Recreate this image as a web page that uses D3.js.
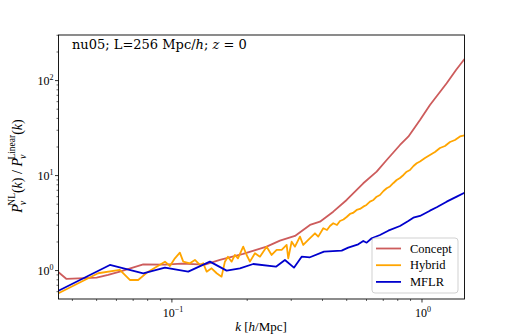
<!DOCTYPE html>
<html>
<head>
<meta charset="utf-8">
<script src="https://cdn.jsdelivr.net/npm/d3@7"></script>
<style>
  body { margin: 0; background: #fff; }
  text { font-family: "Liberation Serif", "DejaVu Serif", serif; fill: #000; }
</style>
</head>
<body>
<svg id="chart" width="510" height="336"></svg>
<script>
// k [h/Mpc] and P_nu^NL / P_nu^Linear
const conceptK = [0.0352, 0.0379, 0.0500, 0.0556, 0.0619, 0.0768, 0.0938, 0.1093, 0.1355, 0.1556, 0.1928, 0.2392, 0.2704, 0.3105, 0.3565, 0.3908, 0.4417, 0.4997, 0.5824, 0.6588, 0.7225, 0.8166, 0.8815, 0.9817, 1.076, 1.255, 1.368, 1.479]
const conceptR = [0.960, 0.816, 0.842, 0.899, 0.974, 1.159, 1.154, 1.182, 1.154, 1.293, 1.496, 1.785, 2.064, 2.313, 3.020, 3.272, 4.169, 5.536, 8.297, 10.99, 14.59, 21.00, 25.67, 38.49, 55.36, 93.67, 129.3, 168.8]

const hybridK = [0.0352, 0.0507, 0.0619, 0.0679, 0.0733, 0.0804, 0.0938, 0.0982, 0.1028, 0.1076, 0.1110, 0.1180, 0.1236, 0.1294, 0.1334, 0.1377, 0.1441, 0.1510, 0.1580, 0.1629, 0.1675, 0.1733, 0.1786, 0.1837, 0.1928, 0.1990, 0.2051, 0.2148, 0.2249, 0.2392, 0.2505, 0.2623, 0.2747, 0.2876, 0.2919, 0.3012, 0.3105, 0.3251, 0.3351, 0.3509, 0.3733, 0.3848, 0.4030, 0.4169, 0.4285, 0.4417, 0.4571, 0.4699, 0.4853, 0.4997, 0.5152, 0.5297, 0.5481, 0.5649, 0.5824, 0.5998, 0.6194, 0.6397, 0.6588, 0.6792, 0.7015, 0.7225, 0.7447, 0.7691, 0.7921, 0.8166, 0.8433, 0.8686, 0.8954, 0.9247, 0.9524, 0.9817, 1.028, 1.076, 1.127, 1.180, 1.236, 1.294, 1.355, 1.419, 1.479]
const hybridR = [0.577, 0.937, 1.015, 0.796, 0.796, 0.974, 1.241, 1.118, 1.347, 1.543, 1.241, 1.194, 1.293, 1.145, 1.194, 0.974, 1.057, 0.937, 0.863, 1.241, 1.401, 1.241, 1.459, 1.347, 1.785, 1.459, 1.241, 1.521, 1.401, 1.785, 1.459, 1.648, 1.648, 1.860, 1.347, 2.015, 1.785, 2.275, 1.860, 2.100, 2.470, 2.275, 2.788, 2.676, 2.948, 3.148, 3.020, 3.328, 3.451, 3.666, 3.943, 4.040, 4.344, 4.451, 4.707, 4.905, 5.313, 5.536, 5.997, 6.249, 6.885, 7.350, 7.678, 8.358, 8.989, 9.435, 10.15, 10.99, 11.45, 12.62, 13.48, 14.08, 15.32, 16.48, 17.72, 19.52, 20.49, 22.58, 23.70, 25.80, 26.43]

const mflrK = [0.0352, 0.0565, 0.0768, 0.0938, 0.1162, 0.1419, 0.1655, 0.1871, 0.2114, 0.2606, 0.2831, 0.3076, 0.3302, 0.3565, 0.4055, 0.4774, 0.5070, 0.5560, 0.5824, 0.6009, 0.6292, 0.6792, 0.7330, 0.8166, 0.8815, 0.9231, 0.9817, 1.076, 1.145, 1.255, 1.377, 1.479]
const mflrR = [0.614, 1.145, 0.937, 1.073, 0.974, 1.241, 0.998, 1.057, 1.173, 1.099, 1.293, 1.073, 1.401, 1.380, 1.581, 1.620, 1.742, 1.891, 2.049, 1.966, 2.188, 2.370, 2.630, 2.948, 3.328, 3.605, 3.755, 4.271, 4.638, 5.313, 5.997, 6.607]

const seriesNames = ["Concept", "Hybrid", "MFLR"]
const seriesColors = ["#cd5c5c", "#ffa500", "#0000cd"]
const xTicks = [0.1, 1]
const yTicks = [1, 10, 100]
const xLabels = ["10|−1", "10|0"]
const yLabels = ["10|0", "10|1", "10|2"]

const margin = {left: 58.5, right: 45.5, top: 35, bottom: 37}
const W = 510, H = 336
const svg = d3.select("#chart")

const x = d3.scaleLog().domain([0.0352, 1.479]).range([margin.left, W - margin.right])
const y = d3.scaleLog().domain([0.502, 302]).range([H - margin.bottom, margin.top])

function minorTicks(scale) {
    let d = scale.domain(), out = []
    for (let e = Math.floor(Math.log10(d[0])); e <= Math.ceil(Math.log10(d[1])); e++) {
        for (let m = 2; m <= 9; m++) {
            let v = m * Math.pow(10, e)
            if (v >= d[0] && v <= d[1]) out.push(v)
        }
    }
    return out
}

// ticks
const g = svg.append("g")
minorTicks(x).forEach(v => {
    g.append("line").attr("x1", x(v)).attr("x2", x(v)).attr("y1", H - margin.bottom).attr("y2", H - margin.bottom + 2)
        .attr("stroke", "#000").attr("stroke-width", 0.6)
})
xTicks.forEach(v => {
    g.append("line").attr("x1", x(v)).attr("x2", x(v)).attr("y1", H - margin.bottom).attr("y2", H - margin.bottom + 3.5)
        .attr("stroke", "#000").attr("stroke-width", 0.8)
})
minorTicks(y).forEach(v => {
    g.append("line").attr("y1", y(v)).attr("y2", y(v)).attr("x1", margin.left).attr("x2", margin.left - 2)
        .attr("stroke", "#000").attr("stroke-width", 0.6)
})
yTicks.forEach(v => {
    g.append("line").attr("y1", y(v)).attr("y2", y(v)).attr("x1", margin.left).attr("x2", margin.left - 3.5)
        .attr("stroke", "#000").attr("stroke-width", 0.8)
})

function powLabel(sel, str) {
    let [base, ex] = str.split("|")
    sel.append("tspan").text(base)
    sel.append("tspan").attr("font-size", "8px").attr("dy", -5).text(ex)
}
xTicks.forEach((v, i) => {
    let t = g.append("text").attr("x", x(v) + 1).attr("y", 317).attr("text-anchor", "middle").attr("font-size", "12px")
    powLabel(t, xLabels[i])
})
yTicks.forEach((v, i) => {
    let t = g.append("text").attr("x", margin.left - 5).attr("y", y(v) + 4).attr("text-anchor", "end").attr("font-size", "12px")
    powLabel(t, yLabels[i])
})

// lines
const line = d3.line().x(d => x(d[0])).y(d => y(d[1]))
const allK = [conceptK, hybridK, mflrK]
const allR = [conceptR, hybridR, mflrR]
svg.append("defs").append("clipPath").attr("id", "clip").append("rect")
    .attr("x", margin.left).attr("y", margin.top).attr("width", W - margin.left - margin.right).attr("height", H - margin.top - margin.bottom)
seriesNames.forEach((name, i) => {
    svg.append("path").datum(d3.zip(allK[i], allR[i]))
        .attr("clip-path", "url(#clip)")
        .attr("d", line).attr("fill", "none")
        .attr("stroke", seriesColors[i]).attr("stroke-width", 1.8).attr("stroke-linejoin", "round")
})

// frame
svg.append("rect").attr("x", margin.left).attr("y", margin.top)
    .attr("width", W - margin.left - margin.right).attr("height", H - margin.top - margin.bottom)
    .attr("fill", "none").attr("stroke", "#000").attr("stroke-width", 0.9)

// annotation
const ann = svg.append("text").attr("x", 72).attr("y", 49).attr("font-size", "13px")
    .style("font-family", "'DejaVu Serif', serif")
ann.append("tspan").text("nu05; L=256 Mpc/")
ann.append("tspan").attr("font-style", "italic").text("h")
ann.append("tspan").text("; ")
ann.append("tspan").attr("font-style", "italic").text("z")
ann.append("tspan").text(" = 0")

// axis labels
const xl = svg.append("text").attr("x", 261).attr("y", 331).attr("text-anchor", "middle").attr("font-size", "13px")
xl.append("tspan").attr("font-style", "italic").text("k")
xl.append("tspan").text(" [")
xl.append("tspan").attr("font-style", "italic").text("h")
xl.append("tspan").text("/Mpc]")

const yl = svg.append("text").attr("transform", "translate(22,166) rotate(-90)").attr("text-anchor", "middle").attr("font-size", "14px")
yl.append("tspan").attr("font-style", "italic").text("P")
yl.append("tspan").attr("font-style", "italic").attr("font-size", "10px").attr("dy", 4).attr("dx", -1).text("ν")
yl.append("tspan").attr("font-size", "9.5px").attr("dy", -11).attr("dx", -5).text("NL")
yl.append("tspan").attr("dy", 7).text("(")
yl.append("tspan").attr("font-style", "italic").text("k")
yl.append("tspan").text(") / ")
yl.append("tspan").attr("font-style", "italic").text("P")
yl.append("tspan").attr("font-style", "italic").attr("font-size", "10px").attr("dy", 4).attr("dx", -1).text("ν")
yl.append("tspan").attr("font-size", "9.5px").attr("dy", -11).attr("dx", -5).text("Linear")
yl.append("tspan").attr("dy", 7).text("(")
yl.append("tspan").attr("font-style", "italic").text("k")
yl.append("tspan").text(")")

// legend
const lg = svg.append("g")
lg.append("rect").attr("x", 372).attr("y", 238).attr("width", 86).attr("height", 55).attr("rx", 3)
    .attr("fill", "#fff").attr("fill-opacity", 0.8).attr("stroke", "#ccc").attr("stroke-width", 0.9)
seriesNames.forEach((name, i) => {
    let yy = 248.5 + i * 16.7
    lg.append("line").attr("x1", 376).attr("x2", 401).attr("y1", yy).attr("y2", yy)
        .attr("stroke", seriesColors[i]).attr("stroke-width", 1.8)
    lg.append("text").attr("x", 410).attr("y", yy + 4).attr("font-size", "12.5px").text(name)
})
</script>
</body>
</html>
